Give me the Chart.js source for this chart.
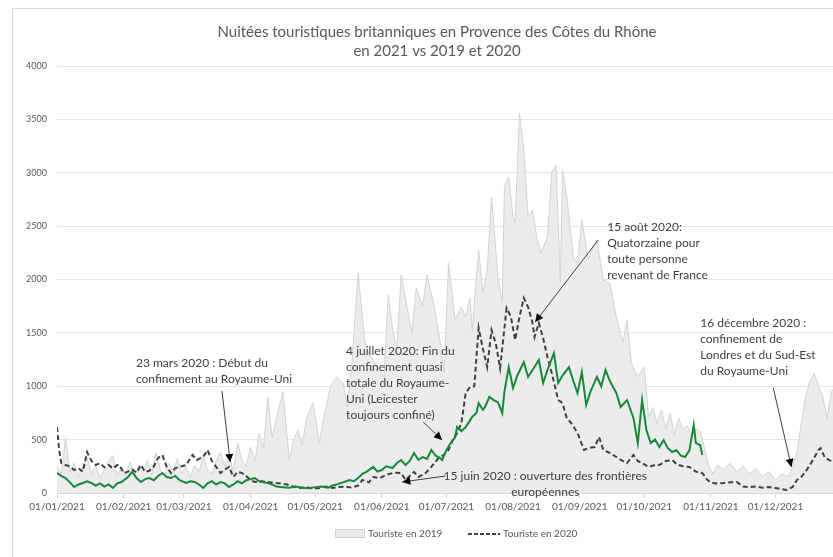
<!DOCTYPE html>
<html>
<head>
<meta charset="utf-8">
<script src="https://cdn.jsdelivr.net/npm/chart.js@4.4.1/dist/chart.umd.min.js"></script>
<style>
html,body{margin:0;padding:0;background:#fff;overflow:hidden;}
#wrap{position:relative;width:850px;height:557px;}
</style>
</head>
<body>
<div id="wrap"><canvas id="c"></canvas></div>
<script>
// ---- Data (day of year index, 0 = 01/01) ----
const moisTicks = [0,31,59,90,120,151,181,212,243,273,304,334];
const moisLabels = ['01/01/2021','01/02/2021','01/03/2021','01/04/2021','01/05/2021','01/06/2021','01/07/2021','01/08/2021','01/09/2021','01/10/2021','01/11/2021','01/12/2021'];

const jours2019 = [0,2,4,6,8,10,12,14,16,18,20,22,24,26,28,30,32,34,36,38,40,42,44,46,48,50,52,54,56,58,60,62,64,66,68,70,72,74,76,78,80,82,84,86,88,90,92,94,96,98,100,102,105,108,110,112,114,116,119,122,124,127,130,133,135,137,140,143,145,147,150,152,154,156,158,160,163,165,167,170,172,175,178,180,182,185,188,190,192,193,196,198,200,202,205,207,208,210,212,213,215,217,219,221,223,225,228,230,232,234,235,237,240,242,244,247,249,251,254,257,260,263,265,267,270,273,275,277,279,281,283,285,287,289,291,293,295,297,299,301,303,305,307,310,313,316,319,322,325,328,331,334,337,340,342,344,346,348,350,352,354,356,358,360,362,364];
const nuitees2019 = [250,180,520,200,280,150,260,330,180,250,140,220,300,350,160,240,180,290,150,260,200,310,170,380,220,160,280,200,320,180,250,150,260,200,340,210,180,300,380,250,360,200,470,300,250,430,300,560,420,900,520,700,946,310,500,590,450,700,843,468,700,993,1087,1030,806,1200,2061,1433,1300,1246,1150,1087,1855,1527,1350,2042,1714,1499,1920,1750,2042,1780,1433,1124,2155,1621,1742,1650,1827,1527,2276,1874,2089,2773,2024,1780,2867,2960,2586,2529,3560,3213,2586,2651,2400,2248,2398,2998,3073,1967,3026,2773,2211,2155,2557,2183,2305,2370,1995,1967,1649,1405,1621,1218,1087,1180,712,800,650,780,600,750,550,700,600,630,520,600,580,420,250,180,260,220,280,200,250,180,230,150,200,120,180,150,250,380,650,900,1050,1124,1000,900,700,950,1000,900];

const jours2020 = [0,1,2,4,6,8,10,12,14,16,18,20,22,24,26,28,29,31,33,35,37,39,41,43,45,47,49,51,53,55,58,60,63,65,68,70,72,74,76,78,80,82,84,86,88,90,92,95,98,101,104,107,110,113,116,119,122,125,128,131,134,137,140,142,145,147,150,153,156,158,160,162,164,166,168,171,174,177,180,182,184,186,188,190,192,194,196,198,200,202,204,206,209,211,213,215,217,219,221,222,224,226,228,230,233,235,237,239,242,245,247,250,252,254,257,260,263,265,268,270,272,275,278,280,283,286,288,291,294,297,300,302,304,307,310,313,316,319,322,325,328,331,334,337,339,342,344,346,348,350,352,354,355,357,359,361,363,364];
const nuitees2020 = [618,400,281,262,250,215,230,200,384,300,262,280,240,262,230,262,262,187,200,220,190,262,197,210,250,328,356,244,187,234,250,262,356,309,340,403,300,244,187,220,244,150,200,187,160,120,103,110,103,94,90,80,60,47,55,40,47,60,47,56,60,50,70,122,100,150,140,170,187,190,187,122,160,197,150,180,244,320,360,403,497,560,656,937,993,1000,1546,1350,1180,1527,1400,1171,1733,1650,1433,1650,1827,1742,1600,1461,1593,1450,1274,1124,871,843,700,656,562,403,420,431,525,403,375,337,300,281,356,300,280,244,262,262,300,309,270,250,244,200,187,130,94,90,94,100,103,60,56,60,50,56,47,35,28,56,122,150,200,262,330,403,420,330,309,280,262,240];

const jours2021 = [0,2,4,6,8,10,12,14,16,18,20,22,24,26,28,30,33,35,37,39,41,43,45,47,49,51,53,55,57,60,62,64,66,68,70,72,74,76,78,80,82,84,86,88,90,92,94,96,98,100,102,105,108,111,114,117,120,123,126,128,130,133,136,138,140,142,144,147,149,151,153,156,158,160,162,164,166,168,170,172,174,176,178,179,181,183,185,186,188,190,192,193,195,196,198,199,201,203,205,207,208,210,212,214,217,219,221,224,226,228,231,233,235,238,240,242,244,246,248,251,253,255,257,260,262,265,268,270,272,274,276,278,280,282,284,286,288,290,292,294,296,297,299,300];
const nuitees2021 = [187,160,140,100,56,80,94,110,94,70,90,60,80,47,90,103,150,197,140,103,130,140,120,160,187,150,140,160,120,94,110,103,80,47,90,110,80,103,90,56,80,110,90,120,130,140,110,100,94,80,60,55,50,60,50,45,55,60,50,70,80,100,122,110,140,180,200,244,200,215,250,234,281,309,262,300,375,310,337,320,403,350,330,309,400,468,520,618,580,618,680,712,750,843,780,806,900,870,850,749,950,1180,984,1100,1227,1087,1150,1246,1030,1152,1311,1030,1100,1180,1050,937,1133,824,950,1087,1000,1152,1050,937,806,871,700,468,871,590,468,500,430,497,420,384,400,350,337,400,637,468,450,356];

const serie2019 = jours2019.map((d,i)=>({x:d,y:nuitees2019[i]}));
const serie2020 = jours2020.map((d,i)=>({x:d,y:nuitees2020[i]}));
const serie2021 = jours2021.map((d,i)=>({x:d,y:nuitees2021[i]}));

// annotations anchored in data coordinates (day, value)
const annotations = [
  {lines:['23 mars 2020 : Début du','confinement au Royaume-Uni'], tx:36.7, ty:1218, align:'left', from:[76.7,955], to:[80.5,290]},
  {lines:['4 juillet 2020: Fin du','confinement quasi','totale du Royaume-','Uni (Leicester','toujours confiné)'], tx:134.4, ty:1330, align:'left', from:[170.2,665], to:[179,497]},
  {lines:['15 août 2020:','Quatorzaine pour','toute personne','revenant de France'], tx:255.8, ty:2492, align:'left', from:[251.6,2370], to:[222.3,1602]},
  {lines:['16 décembre 2020 :','confinement de','Londres et du Sud-Est','du Royaume-Uni'], tx:299, ty:1593, align:'left', from:[333,984], to:[341.4,244]},
  {lines:['15 juin 2020 : ouverture des frontières','européennes'], tx:227, ty:159, align:'center', from:[180.5,159], to:[160.5,103]}
];

const FONT = 'Lato, "Open Sans", "Liberation Sans", sans-serif';

const decor = {
  id:'decor',
  beforeDraw(chart){
    const c = chart.ctx;
    c.save();
    c.fillStyle = '#fff';
    c.fillRect(0,0,chart.width,chart.height);
    c.strokeStyle = '#d9d9d9';
    c.lineWidth = 1;
    c.strokeRect(12.5,8.5,chart.width+20,chart.height+20);
    // title
    c.fillStyle = '#595959';
    c.font = '15px ' + FONT;
    c.textAlign = 'center';
    c.textBaseline = 'middle';
    c.fillText('Nuitées touristiques britanniques en Provence des Côtes du Rhône', 437, 32);
    c.fillText('en 2021 vs 2019 et 2020', 437, 51);
    c.restore();
  },
  afterDatasetsDraw(chart){
    const c = chart.ctx;
    const xs = chart.scales.x, ys = chart.scales.y;
    c.save();
    c.font = '12px ' + FONT;
    c.fillStyle = '#404040';
    c.textBaseline = 'middle';
    annotations.forEach(a=>{
      const tx = xs.getPixelForValue(a.tx), ty = ys.getPixelForValue(a.ty);
      c.textAlign = a.align;
      c.fillStyle = '#404040';
      a.lines.forEach((l,i)=>c.fillText(l, tx, ty + i*16));
      const x1 = xs.getPixelForValue(a.from[0]), y1 = ys.getPixelForValue(a.from[1]);
      const x2 = xs.getPixelForValue(a.to[0]), y2 = ys.getPixelForValue(a.to[1]);
      c.strokeStyle = '#404040';
      c.lineWidth = 1;
      c.beginPath(); c.moveTo(x1,y1); c.lineTo(x2,y2); c.stroke();
      const ang = Math.atan2(y2-y1,x2-x1), L = 8, W = 4;
      c.beginPath();
      c.moveTo(x2,y2);
      c.lineTo(x2 - L*Math.cos(ang) + W*Math.sin(ang), y2 - L*Math.sin(ang) - W*Math.cos(ang));
      c.lineTo(x2 - L*Math.cos(ang) - W*Math.sin(ang), y2 - L*Math.sin(ang) + W*Math.cos(ang));
      c.closePath();
      c.fillStyle = '#000';
      c.fill();
    });
    // legend
    c.font = '10px ' + FONT;
    c.textAlign = 'left';
    c.fillStyle = '#ececec';
    c.fillRect(335.5,529.5,29,8);
    c.strokeStyle = '#d0d0d0';
    c.lineWidth = 1;
    c.strokeRect(335.5,529.5,29,8);
    c.fillStyle = '#595959';
    c.fillText('Touriste en 2019', 368, 534);
    c.strokeStyle = '#404040';
    c.lineWidth = 2;
    c.setLineDash([4,2]);
    c.beginPath(); c.moveTo(468,534); c.lineTo(500,534); c.stroke();
    c.setLineDash([]);
    c.fillText('Touriste en 2020', 503, 534);
    c.restore();
  }
};

new Chart(document.getElementById('c'), {
  type:'line',
  data:{
    datasets:[
      {label:'Touriste en 2021', data:serie2021, borderColor:'#17893a', borderWidth:2, pointRadius:0, fill:false, order:1},
      {label:'Touriste en 2020', data:serie2020, borderColor:'#404040', borderWidth:2, borderDash:[5,3], pointRadius:0, fill:false, order:2},
      {label:'Touriste en 2019', data:serie2019, borderColor:'#d4d4d4', backgroundColor:'#ececec', borderWidth:1, pointRadius:0, fill:'origin', order:3}
    ]
  },
  options:{
    responsive:true,
    maintainAspectRatio:false,
    animation:false,
    layout:{padding:{top:66,right:10,bottom:0,left:0}},
    plugins:{legend:{display:false}, title:{display:false}, tooltip:{enabled:false}},
    scales:{
      x:{
        type:'linear', min:0, max:364,
        afterBuildTicks(s){ s.ticks = moisTicks.map(v=>({value:v})); },
        afterFit(s){ s.height = 64; },
        ticks:{autoSkip:false, maxRotation:0, padding:3, color:'#595959', font:{size:10, family:FONT},
          callback:(v,i)=>moisLabels[i]},
        grid:{display:true, drawOnChartArea:false, drawTicks:true, tickLength:5, color:'#d9d9d9'},
        border:{display:true, color:'#d9d9d9'}
      },
      y:{
        min:0, max:4000,
        afterFit(s){ s.width = 57; },
        ticks:{stepSize:500, padding:10, color:'#595959', font:{size:9, family:FONT},
          callback:(v)=>String(v)},
        grid:{color:'#e6e6e6', drawTicks:false},
        border:{display:false}
      }
    }
  },
  plugins:[decor]
});
</script>
</body>
</html>
